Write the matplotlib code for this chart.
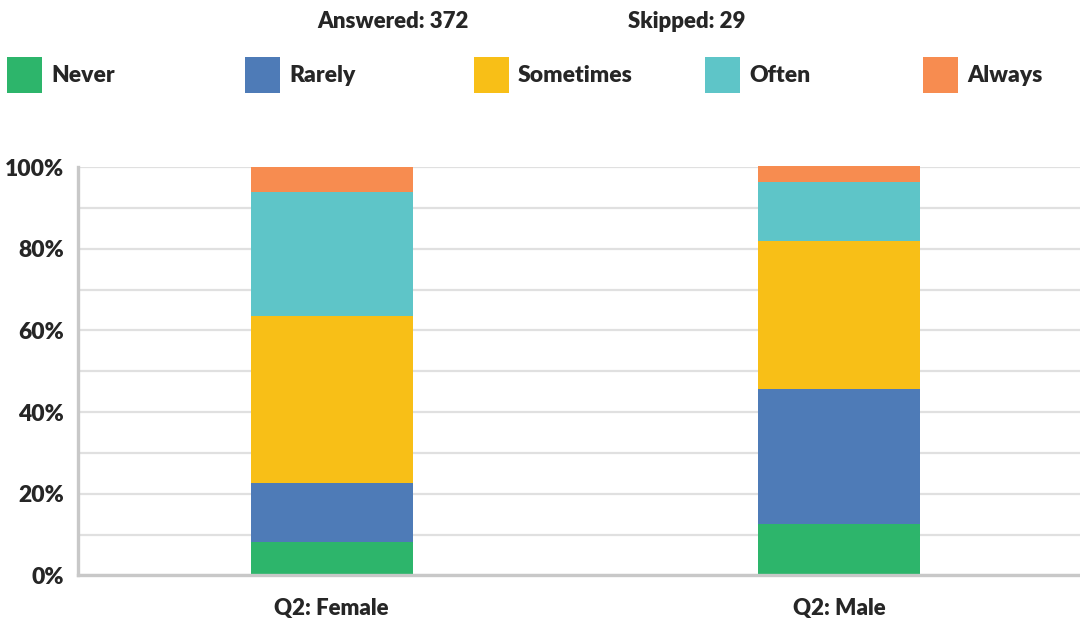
import matplotlib

matplotlib.use("Agg")
import matplotlib.pyplot as plt
from matplotlib.patches import Rectangle

# data (percent of respondents)
categories = ["Q2: Female", "Q2: Male"]
answers = ["Never", "Rarely", "Sometimes", "Often", "Always"]
never = [8.2, 12.6]
rarely = [14.5, 33.1]
sometimes = [40.9, 36.3]
often = [30.3, 14.5]
always = [6.1, 3.8]
answered = 372
skipped = 29

series = [never, rarely, sometimes, often, always]
colors = ["#2db56b", "#4e7bb7", "#f8bf17", "#5ec5c8", "#f78c50"]
TXT = "#262626"
FS = 16.5

plt.rcParams["font.family"] = ["Lato", "DejaVu Sans"]
plt.rcParams["font.weight"] = "heavy"

W, H = 1080, 622
fig = plt.figure(figsize=(W / 100, H / 100), dpi=100)
ax = fig.add_axes([78 / W, 46.7 / H, (1093 - 78) / W, 408 / H])

x = list(range(len(categories)))
bottom = [0.0] * len(categories)
for vals, col in zip(series, colors):
    ax.bar(x, vals, width=0.32, bottom=bottom, color=col, zorder=3, clip_on=False)
    bottom = [b + v for b, v in zip(bottom, vals)]

ax.set_xlim(-0.5, 1.5)
ax.set_ylim(0, 100)
ax.set_yticks(range(0, 101, 20))
ax.set_yticks(range(0, 101, 10), minor=True)
ax.set_yticklabels([f"{v}%" for v in range(0, 101, 20)], fontsize=FS,
                   fontweight="heavy", color=TXT)
ax.set_xticks(x)
ax.set_xticklabels(categories, fontsize=FS - 0.5, fontweight="heavy", color=TXT)
ax.tick_params(axis="y", which="both", length=0, pad=10)
ax.tick_params(axis="x", length=0, pad=16)
ax.grid(axis="y", which="both", color="#e0e0e0", lw=1.6, zorder=0)
for s in ("top", "right"):
    ax.spines[s].set_visible(False)
for s in ("left", "bottom"):
    ax.spines[s].set_color("#c8c8c8")
    ax.spines[s].set_linewidth(2.4)
    ax.spines[s].set_zorder(4)

# header counts
fig.text(393 / W, 1 - 22 / H, f"Answered: {answered}", ha="center", va="center",
         fontsize=FS - 0.5, fontweight="heavy", color=TXT)
fig.text(687 / W, 1 - 22 / H, f"Skipped: {skipped}", ha="center", va="center",
         fontsize=FS - 0.5, fontweight="heavy", color=TXT)

# legend, laid out like the original
leg_x = [7, 245, 474, 705, 923]
for lx, lab, col in zip(leg_x, answers, colors):
    fig.add_artist(Rectangle((lx / W, 1 - 93 / H), 35 / W, 36 / H,
                             transform=fig.transFigure, color=col, lw=0))
    fig.text((lx + 44) / W, 1 - 76 / H, lab, ha="left", va="center",
             fontsize=FS, fontweight="heavy", color=TXT)

fig.savefig("out.png", dpi=100)
